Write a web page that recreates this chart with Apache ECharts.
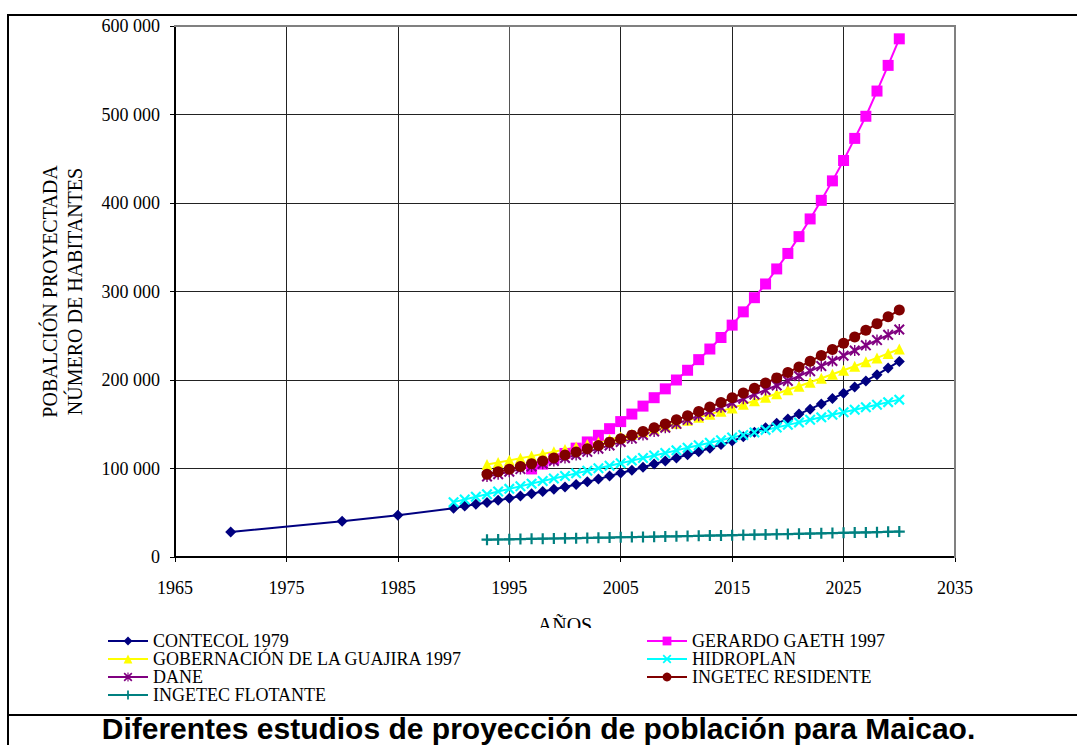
<!DOCTYPE html>
<html>
<head>
<meta charset="utf-8">
<script src="https://cdn.jsdelivr.net/npm/echarts@6/dist/echarts.min.js"></script>
<style>
html,body{margin:0;padding:0;background:#fff;}
#chart{width:1077px;height:745px;}
</style>
</head>
<body>
<div id="chart"></div>
<script>
// ---- Data ----
const contecolYears = [1970, 1980, 1985, 1990, 1991, 1992, 1993, 1994, 1995, 1996, 1997, 1998, 1999, 2000, 2001, 2002, 2003, 2004, 2005, 2006, 2007, 2008, 2009, 2010, 2011, 2012, 2013, 2014, 2015, 2016, 2017, 2018, 2019, 2020, 2021, 2022, 2023, 2024, 2025, 2026, 2027, 2028, 2029, 2030];
const contecolValues = [28200, 40500, 47300, 55000, 57500, 59500, 61500, 64000, 66500, 69000, 71500, 74000, 76500, 79000, 82000, 85000, 88000, 91500, 95000, 98000, 101500, 105000, 108500, 112000, 115500, 119000, 123000, 127000, 131000, 136000, 141000, 146000, 151000, 156000, 161500, 167000, 173000, 179000, 185000, 192000, 199000, 206000, 213500, 221000];

const gaethYears = [1997, 1998, 1999, 2000, 2001, 2002, 2003, 2004, 2005, 2006, 2007, 2008, 2009, 2010, 2011, 2012, 2013, 2014, 2015, 2016, 2017, 2018, 2019, 2020, 2021, 2022, 2023, 2024, 2025, 2026, 2027, 2028, 2029, 2030];
const gaethValues = [99500, 105000, 111000, 117000, 123000, 130000, 137500, 145000, 153000, 161500, 170500, 180000, 190000, 200000, 211000, 223000, 235000, 248000, 262000, 277000, 293000, 308500, 325500, 343000, 362000, 382000, 403000, 425000, 448000, 473000, 498000, 526500, 555500, 585500];

const years1993 = [1993, 1994, 1995, 1996, 1997, 1998, 1999, 2000, 2001, 2002, 2003, 2004, 2005, 2006, 2007, 2008, 2009, 2010, 2011, 2012, 2013, 2014, 2015, 2016, 2017, 2018, 2019, 2020, 2021, 2022, 2023, 2024, 2025, 2026, 2027, 2028, 2029, 2030];
const years1990 = [1990, 1991, 1992, 1993, 1994, 1995, 1996, 1997, 1998, 1999, 2000, 2001, 2002, 2003, 2004, 2005, 2006, 2007, 2008, 2009, 2010, 2011, 2012, 2013, 2014, 2015, 2016, 2017, 2018, 2019, 2020, 2021, 2022, 2023, 2024, 2025, 2026, 2027, 2028, 2029, 2030];

const guajiraValues = [104500, 106800, 109200, 111600, 114000, 116500, 119000, 121600, 124300, 127000, 129800, 132700, 135600, 138600, 141600, 144700, 147900, 151100, 154400, 157800, 161300, 164800, 168400, 172500, 176500, 180500, 184500, 189000, 193000, 197500, 202000, 206500, 211000, 215500, 220500, 225000, 230000, 235000];
const hidroplanValues = [62000, 65000, 68000, 71000, 74000, 77000, 80000, 82900, 85800, 88700, 91600, 94500, 97400, 100300, 103100, 106000, 108900, 111800, 114700, 117600, 120500, 123400, 126200, 129100, 132000, 135000, 137900, 140800, 143600, 146400, 149300, 152100, 155000, 157800, 160700, 163600, 166400, 169300, 172100, 175000, 177800];
const daneValues = [90900, 93600, 96400, 99300, 102300, 105400, 108600, 111900, 115300, 118800, 122400, 126100, 129900, 133800, 137800, 141900, 146100, 150500, 155000, 159600, 164300, 169100, 174000, 178800, 183700, 188700, 193800, 199000, 204500, 210000, 215700, 221500, 227500, 233300, 239200, 245100, 251000, 257000];
const residenteValues = [93500, 96300, 99200, 102200, 105300, 108500, 111800, 115200, 118700, 122300, 126000, 129800, 133700, 137700, 141800, 146000, 150400, 155000, 159700, 164500, 169500, 174600, 179900, 185300, 190800, 196500, 202400, 208500, 214700, 221100, 227700, 234500, 241500, 248700, 256100, 263700, 271500, 279000];
const flotanteValues = [19600, 19800, 20000, 20300, 20500, 20700, 20900, 21100, 21300, 21600, 21800, 22000, 22300, 22500, 22700, 23000, 23200, 23400, 23700, 23900, 24200, 24400, 24700, 24900, 25200, 25400, 25700, 25900, 26200, 26500, 26700, 27000, 27300, 27600, 27800, 28100, 28400, 28700];

const seriesNames = ['CONTECOL 1979', 'GERARDO GAETH 1997', 'GOBERNACIÓN DE LA GUAJIRA 1997', 'HIDROPLAN', 'DANE', 'INGETEC RESIDENTE', 'INGETEC FLOTANTE'];
const xTicks = {min: 1965, max: 2035, step: 10};
const yTicks = {min: 0, max: 600000, step: 100000};

// ---- Chart ----
const SERIF = 'Liberation Serif';
const PLUS = 'path://M4,0H6V4H10V6H6V10H4V6H0V4H4Z';
const XMARK = 'path://M0,1.4L1.4,0L5,3.6L8.6,0L10,1.4L6.4,5L10,8.6L8.6,10L5,6.4L1.4,10L0,8.6L3.6,5Z';
const STAR = 'path://M4.35,0H5.65V10H4.35Z M0,1.3L1.3,0L5,3.7L8.7,0L10,1.3L6.3,5L10,8.7L8.7,10L5,6.3L1.3,10L0,8.7L3.7,5Z';

function pairs(xs, ys) { return xs.map((x, i) => [x, ys[i]]); }

function mk(name, xs, ys, color, symbol, size) {
  return {
    name: name, type: 'line', data: pairs(xs, ys),
    symbol: symbol, symbolSize: size, showSymbol: true,
    lineStyle: {color: color, width: 2},
    itemStyle: {color: color, borderWidth: 0},
    emphasis: {disabled: true}, animation: false
  };
}

const series = [
  mk(seriesNames[0], contecolYears, contecolValues, '#000080', 'diamond', 11),
  mk(seriesNames[1], gaethYears, gaethValues, '#FF00FF', 'rect', 11),
  mk(seriesNames[2], years1993, guajiraValues, '#FFFF00', 'triangle', 11),
  mk(seriesNames[3], years1990, hidroplanValues, '#00FFFF', XMARK, 11),
  mk(seriesNames[4], years1993, daneValues, '#800080', STAR, 11),
  mk(seriesNames[5], years1993, residenteValues, '#800000', 'circle', 11),
  mk(seriesNames[6], years1993, flotanteValues, '#008080', PLUS, 11)
];

const chart = echarts.init(document.getElementById('chart'), null, {renderer: 'svg'});
const legendText = {fontFamily: SERIF, fontSize: 18, color: '#000', lineHeight: 17.7};
chart.setOption({
  backgroundColor: '#fff',
  animation: false,
  textStyle: {fontFamily: SERIF},
  grid: {left: 175, right: 122, top: 26, bottom: 188, show: false},
  xAxis: {
    type: 'value', min: xTicks.min, max: xTicks.max, interval: xTicks.step,
    name: 'AÑOS', nameLocation: 'middle', nameGap: 58,
    nameTextStyle: {fontFamily: SERIF, fontSize: 20, color: '#000'},
    axisLine: {show: true, lineStyle: {color: '#000', width: 2}},
    axisTick: {show: true, inside: false, length: 5, lineStyle: {color: '#000', width: 1}},
    axisLabel: {fontFamily: SERIF, fontSize: 18, color: '#000', margin: 22, formatter: v => String(v)},
    splitLine: {show: true, lineStyle: {color: ['#222', '#222', '#222', '#555', '#222', '#222', '#222', '#808080'], width: 1}}
  },
  yAxis: {
    type: 'value', min: yTicks.min, max: yTicks.max, interval: yTicks.step,
    name: 'POBALCIÓN PROYECTADA\nNÚMERO DE HABITANTES', nameLocation: 'middle', nameRotate: 90, nameGap: 88,
    nameTextStyle: {fontFamily: SERIF, fontSize: 20, color: '#000', lineHeight: 25},
    axisLine: {show: true, lineStyle: {color: '#000', width: 2}},
    axisTick: {show: true, inside: false, length: 5, lineStyle: {color: '#000', width: 1}},
    axisLabel: {fontFamily: SERIF, fontSize: 18, color: '#000', margin: 15,
      formatter: v => v === 0 ? '0' : (v / 1000) + ' 000'},
    splitLine: {show: true, lineStyle: {color: ['#222', '#222', '#222', '#222', '#222', '#222', '#808080'], width: 1}}
  },
  legend: [
    {data: [seriesNames[0], seriesNames[2], seriesNames[4], seriesNames[6]], orient: 'vertical',
     left: 107, top: 632, padding: 0, itemWidth: 40, itemHeight: 11, itemGap: 0, textStyle: legendText, selectedMode: false},
    {data: [seriesNames[1], seriesNames[3], seriesNames[5]], orient: 'vertical',
     left: 646, top: 632, padding: 0, itemWidth: 40, itemHeight: 11, itemGap: 0, textStyle: legendText, selectedMode: false}
  ],
  graphic: [
    {type: 'rect', z: 3, shape: {x: 90, y: 628, width: 900, height: 80}, style: {fill: '#fff'}},
    {type: 'line', z: 10, shape: {x1: 8, y1: 15, x2: 1077, y2: 15}, style: {stroke: '#000', lineWidth: 2}},
    {type: 'line', z: 10, shape: {x1: 8, y1: 14, x2: 8, y2: 745}, style: {stroke: '#000', lineWidth: 2}},
    {type: 'line', z: 10, shape: {x1: 8, y1: 715, x2: 1077, y2: 715}, style: {stroke: '#000', lineWidth: 2}},
    {type: 'rect', z: 2, shape: {x: 174, y: 25, width: 782, height: 2}, style: {fill: '#808080'}},
    {type: 'rect', z: 2, shape: {x: 954, y: 25, width: 2, height: 533}, style: {fill: '#808080'}},
    {type: 'text', z: 10, left: 'center', top: 713,
     style: {text: 'Diferentes estudios de proyección de población para Maicao.', fontFamily: 'Liberation Sans',
       fontSize: 30, fontWeight: 'bold', fill: '#000'}}
  ],
  series: series
});
</script>
</body>
</html>
